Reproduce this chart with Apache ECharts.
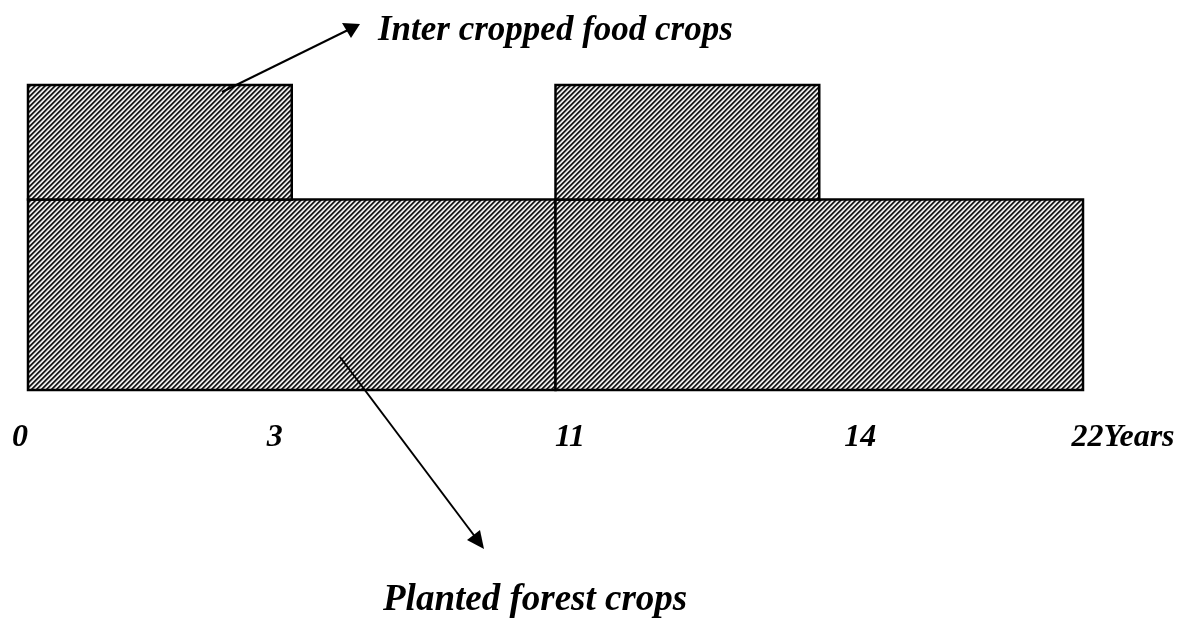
<!DOCTYPE html>
<html>
<head>
<meta charset="utf-8">
<script src="https://cdn.jsdelivr.net/npm/echarts@6/dist/echarts.min.js"></script>
<style>
html,body{margin:0;padding:0;background:#fff;}
#c{width:1181px;height:620px;}
</style>
</head>
<body>
<div id="c"></div>
<script>
// Schematic periods (chart units along the time axis)
const tickValues = [0, 5.5, 11, 16.5, 22];
const tickLabels = ['0', '3', '11', '14', '22Years'];
// Planted forest crops blocks: [start, end, bottom, top]
const forestBlocks = [[0, 11, 0, 5], [11, 22, 0, 5]];
// Inter cropped food crops blocks: [start, end, bottom, top]
const foodBlocks = [[0, 5.5, 5, 8], [11, 16.5, 5, 8]];
const annotationTexts = ['Inter cropped food crops', 'Planted forest crops'];

function makeHatch() {
  const n = 5;
  const shade = [10, 90, 215, 245, 90];
  const c = document.createElement('canvas');
  c.width = n; c.height = n;
  const ctx = c.getContext('2d');
  const img = ctx.createImageData(n, n);
  for (let y = 0; y < n; y++) {
    for (let x = 0; x < n; x++) {
      const v = shade[(x + y) % n];
      const i = (y * n + x) * 4;
      img.data[i] = v; img.data[i + 1] = v; img.data[i + 2] = v; img.data[i + 3] = 255;
    }
  }
  ctx.putImageData(img, 0, 0);
  return c;
}
const hatch = makeHatch();

function renderRect(params, api) {
  const p0 = api.coord([api.value(0), api.value(2)]);
  const p1 = api.coord([api.value(1), api.value(3)]);
  return {
    type: 'rect',
    shape: { x: p0[0], y: p1[1], width: p1[0] - p0[0], height: p0[1] - p1[1] },
    style: { fill: { image: hatch, repeat: 'repeat' }, stroke: '#000', lineWidth: 2.5 }
  };
}

const labelFont = { fontFamily: 'Liberation Serif', fontWeight: 'bold', fontStyle: 'italic', fontSize: 32, color: '#000' };
const pads = [[0, 16, 0, 0], [0, 34, 0, 0], [0, 0, 0, 29], [0, 0, 0, 82], [0, 0, 0, 80]];
const rich = {};
tickLabels.forEach((t, i) => { rich['l' + i] = Object.assign({ padding: pads[i] }, labelFont); });

const chart = echarts.init(document.getElementById('c'), null, { renderer: 'canvas' });
chart.setOption({
  animation: false,
  backgroundColor: '#fff',
  grid: { left: 28, right: 98, top: 85, bottom: 230 },
  xAxis: {
    type: 'value', min: 0, max: 22, interval: 5.5,
    axisLine: { show: false }, axisTick: { show: false }, splitLine: { show: false },
    axisLabel: {
      show: true, margin: 32, showMinLabel: true, showMaxLabel: true,
      formatter: function (v) {
        const i = tickValues.indexOf(v);
        return i >= 0 ? '{l' + i + '|' + tickLabels[i] + '}' : '';
      },
      rich: rich
    }
  },
  yAxis: { type: 'value', min: 0, max: 8, show: false },
  series: [
    { name: 'Planted forest crops', type: 'custom', renderItem: renderRect, data: forestBlocks, z: 2 },
    { name: 'Inter cropped food crops', type: 'custom', renderItem: renderRect, data: foodBlocks, z: 2 }
  ],
  graphic: [
    { type: 'line', z: 10, shape: { x1: 222, y1: 92, x2: 348, y2: 30 }, style: { stroke: '#000', lineWidth: 2 } },
    { type: 'polygon', z: 10, shape: { points: [[360, 24], [342, 23], [351, 38]] }, style: { fill: '#000' } },
    { type: 'line', z: 10, shape: { x1: 340, y1: 357, x2: 476, y2: 538 }, style: { stroke: '#000', lineWidth: 2 } },
    { type: 'polygon', z: 10, shape: { points: [[484, 549], [467, 540], [480, 530]] }, style: { fill: '#000' } },
    { type: 'text', z: 10, left: 378, top: 13, style: { text: annotationTexts[0], fill: '#000', font: 'italic bold 35px "Liberation Serif"' } },
    { type: 'text', z: 10, left: 383, top: 582, style: { text: annotationTexts[1], fill: '#000', font: 'italic bold 37px "Liberation Serif"' } }
  ]
});
</script>
</body>
</html>
